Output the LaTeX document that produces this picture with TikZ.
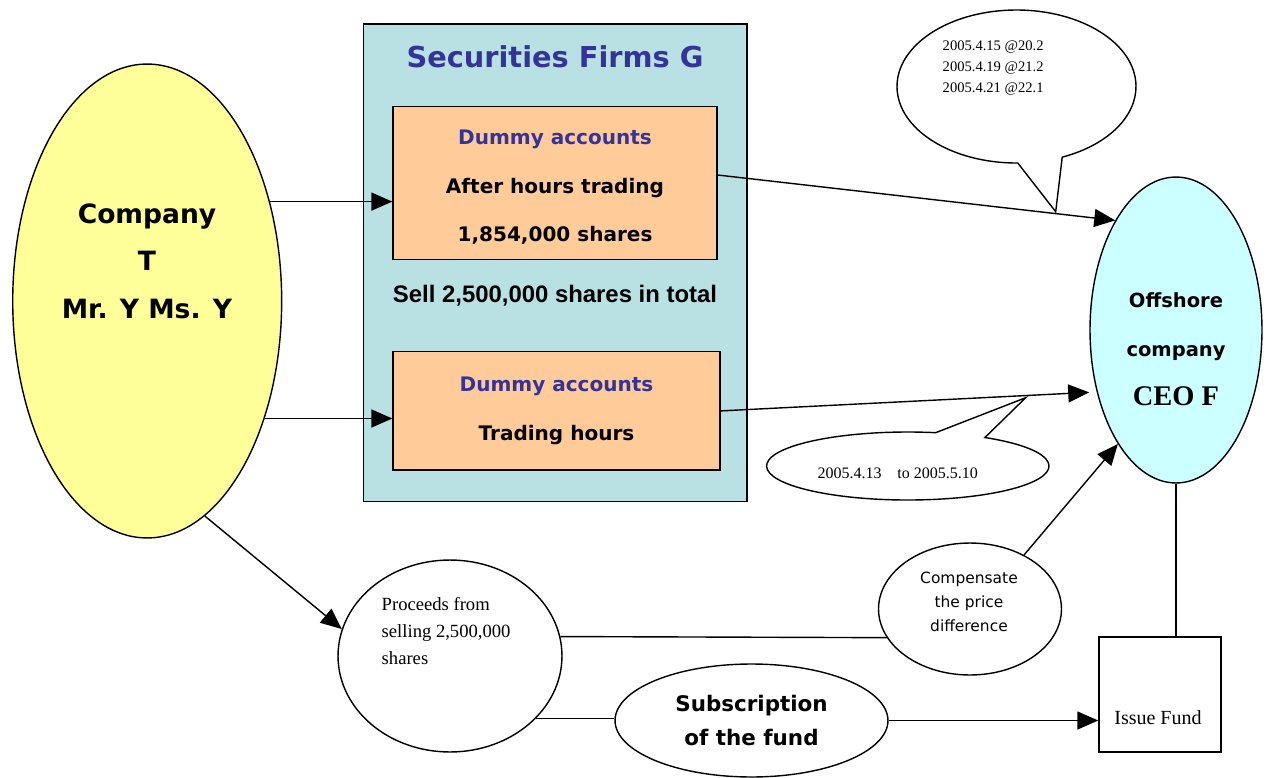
\documentclass[tikz,border=0pt]{standalone}
\usepackage{fontspec}
\setmainfont{Liberation Serif}
\setsansfont{DejaVu Sans}
\newfontfamily\arialfont{Liberation Sans}
\usepackage{tikz}
\usetikzlibrary{shapes.geometric,arrows.meta}
\definecolor{paleyellow}{RGB}{255,255,153}
\definecolor{paleteal}{RGB}{185,224,227}
\definecolor{peach}{RGB}{255,204,153}
\definecolor{palecyan}{RGB}{204,255,255}
\definecolor{titleblue}{RGB}{51,51,153}
\newcommand{\fsz}[2]{\fontsize{#1pt}{#2pt}\selectfont}

\begin{document}
\begin{tikzpicture}[x=0.02cm, y=-0.02cm, line width=0.8pt,
    arr/.style={-{Triangle[length=0.42cm, width=0.36cm]}},
    oval/.style={ellipse, draw, inner sep=0pt},
    acct/.style={draw, fill=peach, inner sep=0pt, align=center, font=\sffamily\bfseries\fsz{11.4}{27.6}},
    bubble/.style={draw, fill=white}]
    \useasboundingbox (0,0) rectangle (1269,778);

    % Company
    \node[oval, fill=paleyellow, minimum width=5.38cm, minimum height=9.48cm] (company) at (147.2,301) {};
    \node[align=center, font=\sffamily\bfseries\fsz{15.1}{27}] (companytext) at (147,261) {Company\\T\\Mr. Y Ms. Y};

    % Securities firm
    \node[draw, fill=paleteal, minimum width=7.67cm, minimum height=9.554cm] (firms) at (555.3,262.9) {};
    \node[text=titleblue, font=\sffamily\bfseries\fsz{16.4}{20}] (firmstitle) at (555,56.7) {Securities Firms G};
    \node[acct, minimum width=6.48cm, minimum height=3.052cm] (afterhours) at (555,183) {};
    \node[align=center, font=\sffamily\bfseries\fsz{11.4}{27.6}] (afterhourstext) at (555,187.5)
        {{\color{titleblue}Dummy accounts}\\After hours trading\\1,854,000 shares};
    \node[font=\arialfont\bfseries\fsz{13.6}{16}] (total) at (555,296) {Sell 2,500,000 shares in total};
    \node[acct, minimum width=6.54cm, minimum height=2.366cm] (tradinghours) at (556.5,410.9)
        {{\color{titleblue}Dummy accounts}\\Trading hours};

    % Offshore company
    \node[oval, fill=palecyan, minimum width=3.44cm, minimum height=6.12cm] (offshore) at (1176,330) {};
    \node[align=center, font=\sffamily\bfseries\fsz{11.1}{27.9}] (offshoretext) at (1176,349)
        {Offshore\\company\\{\rmfamily\fsz{16.2}{27.9}CEO F}};

    % Speech bubbles
    \draw[bubble] (1016.5,86.5) ++(89.4:119.5 and 76.5)
        arc[start angle=89.4, end angle=427.5, x radius=119.5, y radius=76.5] -- (1055.7,211.7) -- cycle;
    \node[anchor=west, align=left, inner sep=0pt, font=\fsz{8.3}{12}] (pricestext) at (942,68)
        {2005.4.15 @20.2\\2005.4.19 @21.2\\2005.4.21 @22.1};
    \draw[bubble] (907.8,466) ++(-56.9:141.2 and 34)
        arc[start angle=-56.9, end angle=281.4, x radius=141.2, y radius=34] -- (1025.7,397.7) -- cycle;
    \node[font=\fsz{9.1}{11}] (periodtext) at (897.7,473) {2005.4.13\hspace{9pt}to 2005.5.10};

    % Money flow
    \node[oval, minimum width=4.48cm, minimum height=3.84cm] (proceeds) at (450,656) {};
    \node[anchor=west, align=left, inner sep=0pt, font=\fsz{10.6}{15.4}] (proceedstext) at (381,631)
        {Proceeds from\\selling 2,500,000\\shares};
    \node[oval, minimum width=3.66cm, minimum height=2.64cm] (compensate) at (970,609) {};
    \node[align=center, font=\sffamily\fsz{8.8}{13.7}] (compensatetext) at (969,602)
        {Compensate\\the price\\difference};
    \node[oval, minimum width=5.46cm, minimum height=2.26cm, align=center,
        font=\sffamily\bfseries\fsz{12.2}{19.9}] (subscription) at (751.5,720.5) {Subscription\\of the fund};
    \node[draw, minimum width=2.44cm, minimum height=2.3cm] (issue) at (1160,694.5) {};
    \node[font=\fsz{11.4}{14}] (issuetext) at (1158,718) {Issue Fund};

    % Connectors
    \draw[arr] (company.39) -- (company.39 -| afterhours.west);
    \draw[arr] (company.-45) -- (company.-45 -| tradinghours.west);
    \draw[arr] (company.-75) -- (proceeds.166);
    \draw[arr] ([yshift=0.16cm]afterhours.east) -- (offshore.119);
    \draw[arr, shorten >=0.15cm] (tradinghours.east) -- (offshore.218);
    \draw[arr] (compensate.45) -- (offshore.243);
    \draw (proceeds.10) -- (compensate.199);
    \draw (proceeds.-36) -- (proceeds.-36 -| subscription.west);
    \draw[arr] (subscription.east) -- (subscription.east -| issue.west);
    \draw (offshore.south) -- (offshore.south |- issue.north);
\end{tikzpicture}
\end{document}
